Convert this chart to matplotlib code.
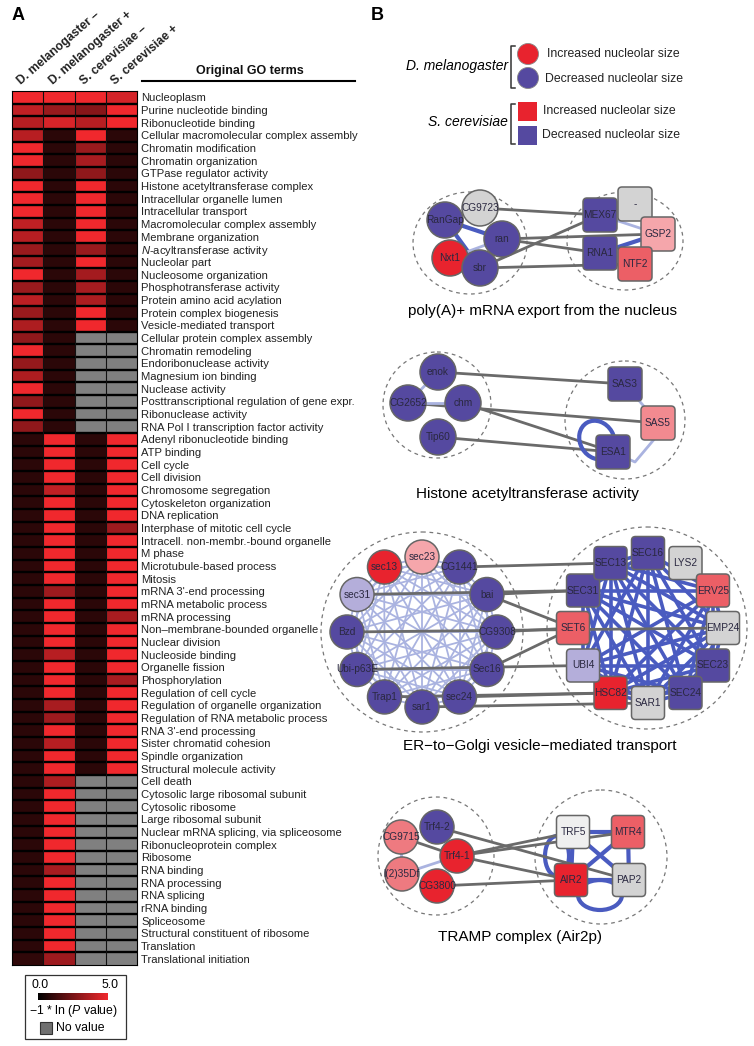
import numpy as np
import matplotlib
matplotlib.use("Agg")
import matplotlib.pyplot as plt
from matplotlib.colors import LinearSegmentedColormap
from matplotlib.patches import Circle, Ellipse, FancyBboxPatch, Rectangle
from matplotlib.cm import ScalarMappable
from matplotlib.colors import Normalize

plt.rcParams['font.family'] = ['Liberation Sans', 'DejaVu Sans']
plt.rcParams['mathtext.fontset'] = 'custom'
plt.rcParams['mathtext.it'] = 'Liberation Sans:italic'
plt.rcParams['mathtext.rm'] = 'Liberation Sans'

NA = np.nan

# ---------------- panel A data ----------------
columns = ["D. melanogaster \u2013", "D. melanogaster +", "S. cerevisiae \u2013", "S. cerevisiae +"]

go_terms = [
    "Nucleoplasm", "Purine nucleotide binding", "Ribonucleotide binding",
    "Cellular macromolecular complex assembly", "Chromatin modification",
    "Chromatin organization", "GTPase regulator activity",
    "Histone acetyltransferase complex", "Intracellular organelle lumen",
    "Intracellular transport", "Macromolecular complex assembly",
    "Membrane organization", "$\\mathit{N}$-acyltransferase activity", "Nucleolar part",
    "Nucleosome organization", "Phosphotransferase activity",
    "Protein amino acid acylation", "Protein complex biogenesis",
    "Vesicle-mediated transport", "Cellular protein complex assembly",
    "Chromatin remodeling", "Endoribonuclease activity", "Magnesium ion binding",
    "Nuclease activity", "Posttranscriptional regulation of gene expr.",
    "Ribonuclease activity", "RNA Pol I transcription factor activity",
    "Adenyl ribonucleotide binding", "ATP binding", "Cell cycle", "Cell division",
    "Chromosome segregation", "Cytoskeleton organization", "DNA replication",
    "Interphase of mitotic cell cycle", "Intracell. non-membr.-bound organelle",
    "M phase", "Microtubule-based process", "Mitosis", "mRNA 3'-end processing",
    "mRNA metabolic process", "mRNA processing", "Non\u2013membrane-bounded organelle",
    "Nuclear division", "Nucleoside binding", "Organelle fission", "Phosphorylation",
    "Regulation of cell cycle", "Regulation of organelle organization",
    "Regulation of RNA metabolic process", "RNA 3'-end processing",
    "Sister chromatid cohesion", "Spindle organization",
    "Structural molecule activity", "Cell death", "Cytosolic large ribosomal subunit",
    "Cytosolic ribosome", "Large ribosomal subunit",
    "Nuclear mRNA splicing, via spliceosome", "Ribonucleoprotein complex",
    "Ribosome", "RNA binding", "RNA processing", "RNA splicing", "rRNA binding",
    "Spliceosome", "Structural constituent of ribosome", "Translation",
    "Translational initiation",
]

# -1 * ln(P value), one list per column
dm_minus = [5.0, 4.0, 3.8, 3.8, 5.0, 5.0, 3.0, 5.0, 5.0, 5.0, 4.0, 3.8, 3.2, 3.4,
            5.0, 3.2, 3.9, 3.2, 3.6, 3.0, 5.0, 3.1, 3.6, 5.0, 3.0, 5.0, 3.0,
            0.9, 0.9, 0.9, 0.9, 0.9, 0.9, 0.9, 0.9, 0.9, 0.9, 0.9, 0.9, 0.9, 0.9,
            0.9, 0.9, 0.9, 0.9, 0.9, 0.9, 0.9, 0.9, 0.9, 0.9, 0.9, 0.9, 0.9,
            0.9, 0.9, 0.9, 0.9, 0.9, 0.9, 0.9, 0.9, 0.9, 0.9, 0.9, 0.9, 0.9, 0.9, 1.0]
dm_plus = [5.0, 3.2, 4.5, 0.9, 0.9, 0.9, 0.9, 0.9, 0.9, 0.9, 0.9, 0.9, 0.9, 0.9,
           0.9, 0.9, 0.9, 0.9, 0.9, 0.9, 0.9, 0.9, 0.9, 0.9, 0.9, 0.9, 0.9,
           5.0, 5.0, 5.0, 5.0, 4.0, 5.0, 5.0, 5.0, 5.0, 5.0, 5.0, 5.0, 3.3, 5.0,
           5.0, 5.0, 5.0, 3.8, 5.0, 5.0, 5.0, 3.5, 3.3, 5.0, 3.8, 5.0, 5.0,
           3.6, 5.0, 5.0, 5.0, 5.0, 5.0, 5.0, 3.5, 5.0, 5.0, 5.0, 5.0, 5.0, 5.0, 3.3]
sc_minus = [5.0, 2.8, 3.8, 5.0, 3.2, 3.5, 3.0, 5.0, 5.0, 5.0, 5.0, 5.0, 3.2, 5.0,
            3.4, 3.5, 3.6, 5.0, 5.0, NA, NA, NA, NA, NA, NA, NA, NA,
            0.9, 0.9, 0.9, 0.9, 0.9, 0.9, 0.9, 0.9, 0.9, 0.9, 0.9, 0.9, 0.9, 0.9,
            0.9, 0.9, 0.9, 0.9, 0.9, 0.9, 0.9, 0.9, 0.9, 0.9, 0.9, 0.9, 0.9,
            NA, NA, NA, NA, NA, NA, NA, NA, NA, NA, NA, NA, NA, NA, NA]
sc_plus = [4.4, 5.0, 5.0, 0.9, 0.9, 0.9, 0.9, 0.9, 0.9, 0.9, 0.9, 0.9, 0.9, 0.9,
           0.9, 0.9, 0.9, 0.9, 0.9, NA, NA, NA, NA, NA, NA, NA, NA,
           5.0, 5.0, 5.0, 5.0, 5.0, 5.0, 5.0, 3.3, 5.0, 5.0, 5.0, 5.0, 5.0, 5.0,
           3.5, 5.0, 5.0, 5.0, 5.0, 3.5, 5.0, 5.0, 5.0, 5.0, 5.0, 5.0, 5.0,
           NA, NA, NA, NA, NA, NA, NA, NA, NA, NA, NA, NA, NA, NA, NA]

# ---------------- panel B data ----------------
BLUE, RED, SALMON, PINK = "#5549A0", "#E8232E", "#EC5F66", "#F5A6AB"
LPURPLE, GREY, WGREY = "#B4AEDA", "#D3D3D3", "#EFEFEF"

# network 1: poly(A)+ mRNA export
net1_nodes = ["CG9723", "RanGap", "ran", "Nxt1", "sbr", "MEX67", "-", "GSP2", "RNA1", "NTF2"]
net1_shape = ["o", "o", "o", "o", "o", "s", "s", "s", "s", "s"]
net1_color = [GREY, BLUE, BLUE, RED, BLUE, BLUE, GREY, PINK, BLUE, SALMON]
net1_inter = [("CG9723", "MEX67"), ("ran", "GSP2"), ("ran", "RNA1"),
              ("sbr", "MEX67"), ("sbr", "NTF2")]
net1_strong = [("RanGap", "ran"), ("RanGap", "sbr"), ("ran", "sbr"), ("RNA1", "GSP2")]
net1_weak = [("Nxt1", "ran"), ("MEX67", "GSP2")]

# network 2: histone acetyltransferase activity
net2_nodes = ["enok", "CG2652", "chm", "Tip60", "SAS3", "SAS5", "ESA1"]
net2_shape = ["o", "o", "o", "o", "s", "s", "s"]
net2_color = [BLUE, BLUE, BLUE, BLUE, BLUE, "#F28A90", BLUE]
net2_inter = [("enok", "SAS3"), ("CG2652", "SAS5"), ("chm", "ESA1"), ("Tip60", "ESA1")]
net2_weak = [("CG2652", "chm"), ("enok", "CG2652"), ("SAS3", "SAS5")]

# network 3: ER-to-Golgi vesicle-mediated transport (ring order, from 3 o'clock clockwise)
net3_left = ["CG9308", "Sec16", "sec24", "sar1", "Trap1", "Ubi-p63E",
             "Bzd", "sec31", "sec13", "sec23", "CG1441", "bai"]
net3_left_color = [BLUE, BLUE, BLUE, BLUE, BLUE, BLUE, BLUE, LPURPLE, RED, PINK, BLUE, BLUE]
net3_right = ["EMP24", "SEC23", "SEC24", "SAR1", "HSC82", "UBI4",
              "SET6", "SEC31", "SEC13", "SEC16", "LYS2", "ERV25"]
net3_right_color = [GREY, BLUE, BLUE, GREY, RED, LPURPLE, SALMON, BLUE, BLUE, BLUE, GREY, SALMON]
net3_inter = [("CG1441", "SEC13"), ("sec31", "SEC31"), ("bai", "SEC31"), ("bai", "SET6"),
              ("Bzd", "EMP24"), ("CG9308", "SET6"), ("Sec16", "SET6"),
              ("Ubi-p63E", "UBI4"), ("Trap1", "HSC82"), ("sec24", "HSC82"), ("sar1", "SAR1")]
net3_core = ["EMP24", "SEC23", "SEC24", "SAR1", "HSC82", "UBI4", "SEC31", "SEC13",
             "SEC16", "ERV25"]

# network 4: TRAMP complex
net4_nodes = ["Trf4-2", "CG9715", "Trf4-1", "l(2)35Df", "CG3800", "TRF5", "MTR4", "AIR2", "PAP2"]
net4_shape = ["o", "o", "o", "o", "o", "s", "s", "s", "s"]
net4_color = [BLUE, "#EE7A80", RED, "#EE7A80", RED, WGREY, SALMON, RED, GREY]
net4_inter = [("Trf4-2", "PAP2"), ("Trf4-1", "TRF5"), ("Trf4-1", "MTR4"),
              ("Trf4-1", "AIR2"), ("CG9715", "Trf4-1"), ("CG3800", "AIR2")]
net4_strong = [("TRF5", "MTR4"), ("TRF5", "AIR2"), ("MTR4", "PAP2"), ("AIR2", "PAP2"),
               ("TRF5", "PAP2"), ("MTR4", "AIR2")]
net4_weak = [("CG9715", "l(2)35Df"), ("l(2)35Df", "Trf4-1")]

# ---------------- figure ----------------
W, H = 754, 1046
fig = plt.figure(figsize=(W / 100, H / 100), dpi=100, facecolor="white")
ax = fig.add_axes([0, 0, 1, 1])
ax.set_xlim(0, W)
ax.set_ylim(H, 0)
ax.set_axis_off()
ax.patch.set_alpha(0)

# heatmap
cmap = LinearSegmentedColormap.from_list("blkred", ["#000000", "#F0282D"])
cmap.set_bad("#808080")
data = np.ma.masked_invalid(np.array([dm_minus, dm_plus, sc_minus, sc_plus]).T)
nrow, ncol = data.shape

hx0, hx1, hy0, hy1 = 12, 137, 91, 965
hax = fig.add_axes([hx0 / W, 1 - hy1 / H, (hx1 - hx0) / W, (hy1 - hy0) / H])
hax.pcolormesh(np.arange(ncol + 1), np.arange(nrow + 1), data, cmap=cmap, vmin=0, vmax=5)
hax.set_xlim(0, ncol)
hax.set_ylim(nrow, 0)
hax.hlines(np.arange(1, nrow), 0, ncol, color="black", lw=1.7)
hax.vlines(np.arange(1, ncol), 0, nrow, color="#111111", lw=0.8)
for s in hax.spines.values():
    s.set_linewidth(0.8)
hax.yaxis.tick_right()
hax.set_yticks(np.arange(nrow) + 0.5)
hax.set_yticklabels(go_terms, fontsize=8.1, color="#222222")
hax.tick_params(axis="y", length=0, pad=3)
hax.set_xticks([])
for j, c in enumerate(columns):
    hax.text(j + 0.3, -0.5, c, rotation=41, rotation_mode="anchor", ha="left",
             va="baseline", fontsize=8.7, fontweight="bold", color="#222222")

ax.text(250, 71, "Original GO terms", ha="center", va="center", fontsize=9,
        fontweight="bold", color="#111111")
ax.plot([142, 355], [81, 81], color="black", lw=1.5)
ax.text(12, 15, "A", fontsize=13, fontweight="bold", ha="left", va="center")
ax.text(371, 15, "B", fontsize=13, fontweight="bold", ha="left", va="center")

# colour legend box
ax.add_patch(Rectangle((25, 975), 101, 64, fc="white", ec="#333333", lw=0.9))
cax = fig.add_axes([38 / W, 1 - 1000 / H, 70 / W, 7 / H])
cb = fig.colorbar(ScalarMappable(norm=Normalize(0, 5), cmap=cmap), cax=cax,
                  orientation="horizontal")
cb.set_ticks([])
cb.outline.set_visible(False)
ax.text(31, 985, "0.0", fontsize=8.8, ha="left", va="center")
ax.text(118, 985, "5.0", fontsize=8.8, ha="right", va="center")
ax.text(73, 1011, "\u22121 * ln ($\\mathit{P}$ value)", fontsize=8.8, ha="center", va="center")
ax.add_patch(Rectangle((40, 1022), 12, 12, fc="#707070", ec="#333333", lw=0.8))
ax.text(56, 1028, "No value", fontsize=8.8, ha="left", va="center")

# panel B legend
for yy0, yy1, lab, ytxt in [(46, 88, "D. melanogaster", 66), (104, 144, "S. cerevisiae", 122)]:
    ax.plot([515, 511, 511, 515], [yy0, yy0, yy1, yy1], color="#333333", lw=1.1)
    ax.text(508, ytxt, lab, fontsize=10, style="italic", ha="right", va="center")
ax.add_patch(Circle((528, 54), 10.5, fc=RED, ec="#888888", lw=0.6))
ax.add_patch(Circle((528, 78), 10.5, fc=BLUE, ec="#888888", lw=0.6))
ax.add_patch(Rectangle((518, 102), 19, 19, fc=RED, ec="none"))
ax.add_patch(Rectangle((518, 126), 19, 19, fc=BLUE, ec="none"))
for x, y, t in [(547, 54, "Increased nucleolar size"), (545, 79, "Decreased nucleolar size"),
                (543, 111, "Increased nucleolar size"), (542, 135, "Decreased nucleolar size")]:
    ax.text(x, y, t, fontsize=8.8, ha="left", va="center", color="#222222")

STRONG, WEAK, INTER = "#4A5BC0", "#AAB3E0", "#6A6A6A"


def draw_edges(pos, edges, color, lw, z=1):
    for a, b in edges:
        ax.plot([pos[a][0], pos[b][0]], [pos[a][1], pos[b][1]], color=color, lw=lw,
                zorder=z, solid_capstyle="round")


def draw_nodes(pos, names, shapes, colors, r=17, side=33, fs=7.3):
    for n, s, c in zip(names, shapes, colors):
        x, y = pos[n]
        if s == "o":
            ax.add_patch(Circle((x, y), r, fc=c, ec="#666666", lw=1.1, zorder=4))
        else:
            p = 4
            ax.add_patch(FancyBboxPatch((x - side / 2 + p, y - side / 2 + p), side - 2 * p,
                                        side - 2 * p, boxstyle="round,pad=%d" % p,
                                        fc=c, ec="#666666", lw=1.1, zorder=4))
        ax.text(x, y, n, fontsize=fs, ha="center", va="center", color="#2A2840", zorder=5)


def dashed(cx, cy, w, h):
    ax.add_patch(Ellipse((cx, cy), w, h, fc="none", ec="#777777", lw=0.9, ls=(0, (3, 3)),
                         zorder=0))


# network 1
pos1 = {"CG9723": (480, 208), "RanGap": (445, 220), "ran": (502, 239), "Nxt1": (450, 258),
        "sbr": (480, 268), "MEX67": (600, 215), "-": (635, 204), "GSP2": (658, 234),
        "RNA1": (600, 253), "NTF2": (635, 264)}
dashed(470, 243, 114, 102)
dashed(625, 241, 116, 98)
draw_edges(pos1, net1_inter, INTER, 2.0)
draw_edges(pos1, net1_strong, STRONG, 3.0)
draw_edges(pos1, net1_weak, WEAK, 2.0)
draw_nodes(pos1, net1_nodes, net1_shape, net1_color, r=18, side=34)
ax.text(542, 311, "poly(A)+ mRNA export from the nucleus", fontsize=11, ha="center", va="center")

# network 2
pos2 = {"enok": (438, 372), "CG2652": (408, 403), "chm": (463, 403), "Tip60": (438, 437),
        "SAS3": (625, 384), "SAS5": (658, 423), "ESA1": (613, 452)}
dashed(437, 405, 108, 106)
dashed(625, 420, 120, 118)
draw_edges(pos2, net2_inter, INTER, 2.0)
draw_edges(pos2, net2_weak, WEAK, 2.0)
ax.add_patch(Ellipse((597, 440), 34, 40, angle=-30, fc="none", ec=STRONG, lw=3, zorder=1))
ax.plot([613, 635, 662], [452, 462, 430], color=WEAK, lw=2, zorder=1)
draw_nodes(pos2, net2_nodes, net2_shape, net2_color, r=18, side=34)
ax.text(527, 494, "Histone acetyltransferase activity", fontsize=11, ha="center", va="center")

# network 3
pos3 = {}
for i, n in enumerate(net3_left):
    a = np.deg2rad(30 * i)
    pos3[n] = (422 + 75 * np.cos(a), 632 + 75 * np.sin(a))
for i, n in enumerate(net3_right):
    a = np.deg2rad(30 * i)
    pos3[n] = (648 + 75 * np.cos(a), 628 + 75 * np.sin(a))
dashed(422, 632, 202, 200)
dashed(647, 628, 200, 202)
left_pairs = [(a, b) for i, a in enumerate(net3_left) for b in net3_left[i + 1:]]
core_pairs = [(a, b) for i, a in enumerate(net3_core) for b in net3_core[i + 1:]]
draw_edges(pos3, left_pairs, WEAK, 1.3)
draw_edges(pos3, core_pairs, STRONG, 2.6)
draw_edges(pos3, net3_inter, INTER, 2.0, z=2)
draw_nodes(pos3, net3_left, ["o"] * 12, net3_left_color, r=17)
draw_nodes(pos3, net3_right, ["s"] * 12, net3_right_color, side=33)
ax.text(540, 746, "ER\u2212to\u2212Golgi vesicle\u2212mediated transport", fontsize=11,
        ha="center", va="center")

# network 4
pos4 = {"Trf4-2": (437, 827), "CG9715": (401, 837), "Trf4-1": (457, 856),
        "l(2)35Df": (402, 874), "CG3800": (437, 886), "TRF5": (573, 832),
        "MTR4": (628, 832), "AIR2": (571, 880), "PAP2": (629, 880)}
dashed(436, 856, 116, 118)
dashed(601, 857, 132, 134)
draw_edges(pos4, net4_inter, INTER, 2.0, z=2)
draw_edges(pos4, net4_weak, WEAK, 2.0)
draw_edges(pos4, net4_strong, STRONG, 3.0)
ax.add_patch(Ellipse((600, 895), 44, 30, fc="none", ec=STRONG, lw=3, zorder=1))
ax.add_patch(Ellipse((557, 856), 24, 40, fc="none", ec=STRONG, lw=3, zorder=1))
draw_nodes(pos4, net4_nodes, net4_shape, net4_color, r=17, side=33)
ax.text(520, 937, "TRAMP complex (Air2p)", fontsize=11, ha="center", va="center")

fig.savefig("out.png", dpi=100, facecolor="white")
